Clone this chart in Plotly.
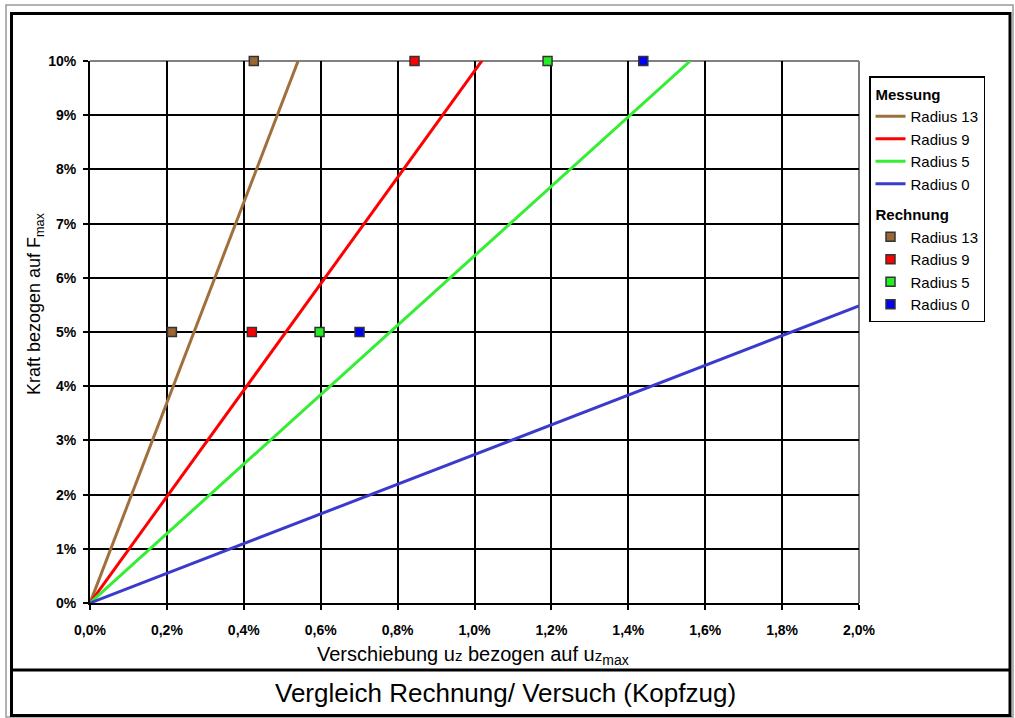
import plotly.graph_objects as go

# ---------------- data ----------------
radii = ["Radius 13", "Radius 9", "Radius 5", "Radius 0"]
# Messung: straight lines from origin (x in %, y in %)
mess_x = [[0.0, 0.545], [0.0, 1.026], [0.0, 1.561], [0.0, 2.0]]
mess_y = [[0.0, 10.07], [0.0, 10.07], [0.0, 10.0], [0.0, 5.48]]
# Rechnung: computed points
rech_x = [[0.213, 0.426], [0.421, 0.844], [0.597, 1.19], [0.701, 1.439]]
rech_y = [[5.0, 10.0], [5.0, 10.0], [5.0, 10.0], [5.0, 10.0]]

x_tickvals = [0.0, 0.2, 0.4, 0.6, 0.8, 1.0, 1.2, 1.4, 1.6, 1.8, 2.0]
x_ticktext = ["0,0%", "0,2%", "0,4%", "0,6%", "0,8%", "1,0%", "1,2%", "1,4%", "1,6%", "1,8%", "2,0%"]
y_tickvals = list(range(0, 11))
y_ticktext = [f"{v}%" for v in y_tickvals]

line_colors = ["#A0703C", "#FF0000", "#33EE33", "#3A3ACC"]
marker_colors = ["#9B6634", "#FF0000", "#22EE22", "#0000FF"]

FONT = "Liberation Sans, Arial"

# ---------------- layout geometry ----------------
W, H = 1015, 718
L, R, T, B = 90, 859, 61, 603
pw, ph = R - L, B - T


def px(x):
    return (x - L) / pw


def py(y):
    return (B - y) / ph


fig = go.Figure()

for i, name in enumerate(radii):
    fig.add_trace(go.Scatter(
        x=mess_x[i], y=mess_y[i], mode="lines", name=name,
        line=dict(color=line_colors[i], width=3),
        legendgroup="mess",
        legendgrouptitle=dict(text="Messung", font=dict(family=FONT, size=15, color="black", weight="bold")),
    ))

for i, name in enumerate(radii):
    fig.add_trace(go.Scatter(
        x=rech_x[i], y=rech_y[i], mode="markers", name=name,
        marker=dict(symbol="square", size=9, color=marker_colors[i], line=dict(color="#333333", width=1.5)),
        cliponaxis=False,
        legendgroup="rech",
        legendgrouptitle=dict(text="Rechnung", font=dict(family=FONT, size=15, color="black", weight="bold")),
    ))

shapes = [
    # outer gray border
    dict(type="rect", xref="paper", yref="paper", x0=px(6), x1=px(1013), y0=py(5), y1=py(717),
         line=dict(color="#999999", width=1.5), layer="below"),
    # thick black frame
    dict(type="rect", xref="paper", yref="paper", x0=px(11.5), x1=px(1010), y0=py(13.5), y1=py(715.5),
         line=dict(color="black", width=3), layer="below"),
    # divider above title box
    dict(type="line", xref="paper", yref="paper", x0=px(11.5), x1=px(1010), y0=py(670), y1=py(670),
         line=dict(color="black", width=3), layer="below"),
    # gray top and right borders of plot area
    dict(type="line", xref="paper", yref="paper", x0=0, x1=1, y0=1, y1=1,
         line=dict(color="#808080", width=2), layer="between"),
    dict(type="line", xref="paper", yref="paper", x0=1, x1=1, y0=0, y1=1,
         line=dict(color="#808080", width=2), layer="between"),
]

annotations = [
    dict(text="Vergleich Rechnung/ Versuch (Kopfzug)", xref="paper", yref="paper",
         x=px(505), y=py(693), xanchor="center", yanchor="middle", showarrow=False,
         font=dict(family=FONT, size=26, color="black")),
    dict(text="Verschiebung u<span style='font-size:15px'>z</span> bezogen auf u<span style='font-size:15px'>z</span><sub>max</sub>",
         xref="paper", yref="paper", x=px(473), y=py(655), xanchor="center", yanchor="middle", showarrow=False,
         font=dict(family=FONT, size=20, color="black")),
    dict(text="Kraft bezogen auf F<sub>max</sub>", xref="paper", yref="paper", textangle=-90,
         x=px(35), y=py(303), xanchor="center", yanchor="middle", showarrow=False,
         font=dict(family=FONT, size=18, color="black")),
]

fig.update_layout(
    width=W, height=H, autosize=False,
    margin=dict(l=L, r=W - R, t=T, b=H - B, pad=0),
    paper_bgcolor="white", plot_bgcolor="white",
    showlegend=True,
    shapes=shapes, annotations=annotations,
    legend=dict(
        x=px(869), y=py(76), xanchor="left", yanchor="top",
        bgcolor="white", bordercolor="black", borderwidth=1.5,
        font=dict(family=FONT, size=15, color="black"),
        traceorder="grouped", tracegroupgap=8, itemwidth=30,
    ),
    xaxis=dict(
        range=[0, 2.0], tickvals=x_tickvals, ticktext=x_ticktext,
        showgrid=True, gridcolor="black", gridwidth=2, zeroline=False,
        showline=True, linecolor="black", linewidth=2,
        ticks="outside", ticklen=5, tickwidth=2, tickcolor="black",
        ticklabelstandoff=8,
        tickfont=dict(family=FONT, size=14, color="black", weight="bold"),
    ),
    yaxis=dict(
        range=[0, 10], tickvals=y_tickvals, ticktext=y_ticktext,
        showgrid=True, gridcolor="black", gridwidth=2, zeroline=False,
        showline=True, linecolor="black", linewidth=2,
        ticks="outside", ticklen=5, tickwidth=2, tickcolor="black",
        ticklabelstandoff=4,
        tickfont=dict(family=FONT, size=14, color="black", weight="bold"),
    ),
)

fig.write_html("out.html", config={"displayModeBar": False},
               post_script="document.body.style.margin='0';")
